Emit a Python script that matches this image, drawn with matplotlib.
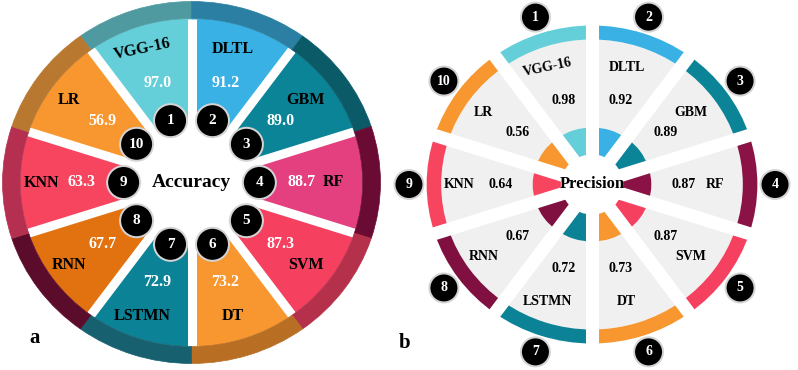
import numpy as np
import matplotlib
matplotlib.use('Agg')
import matplotlib.pyplot as plt
from matplotlib.patches import Wedge, Circle
from matplotlib.transforms import Affine2D

plt.rcParams['font.family'] = ['Liberation Serif', 'DejaVu Serif']
plt.rcParams['font.weight'] = 'bold'

# data
models = ['VGG-16', 'DLTL', 'GBM', 'RF', 'SVM', 'DT', 'LSTMN', 'RNN', 'KNN', 'LR']
accuracy = [97.0, 91.2, 89.0, 88.7, 87.3, 73.2, 72.9, 67.7, 63.3, 56.9]
precision = [0.98, 0.92, 0.89, 0.87, 0.87, 0.73, 0.72, 0.67, 0.64, 0.56]

colors_a = ['#64cfd9', '#39b1e4', '#0c8497', '#e4407f', '#f6405f',
            '#f8962f', '#0b8296', '#e2710f', '#f74560', '#f8962f']
ring_a = ['#4f9aa0', '#2a7fa2', '#0b5a68', '#690b32', '#b5304a',
          '#b86f24', '#17606f', '#5c0c2b', '#b53050', '#b87830']
colors_b = ['#64cfd9', '#39b1e4', '#0c8497', '#8a1244', '#f6405f',
            '#f8962f', '#0b8296', '#801040', '#f74560', '#f8962f']

n = len(models)
step = 360 / n
mids = 90 + step / 2 - step * np.arange(n)      # wedge 1 sits just left of 12 o'clock, clockwise

fig = plt.figure(figsize=(7.98, 3.70), dpi=100)
ax = fig.add_axes([0, 0, 1, 1])
ax.set_xlim(0, 798)
ax.set_ylim(0, 370)
ax.axis('off')


def pos(cx, cy, sx, r, ang):
    a = np.radians(ang)
    return cx + sx * r * np.cos(a), cy + r * np.sin(a)


def num_circle(x, y, r, k, size):
    ax.add_patch(Circle((x, y), r + 2, fc='#d4d4d4', ec='none', zorder=6))
    ax.add_patch(Circle((x, y), r, fc='black', ec='none', zorder=7))
    ax.text(x, y, str(k), color='white', fontsize=size, ha='center', va='center',
            fontweight='bold', zorder=8)


# ---------------- panel a : accuracy ----------------
cx, cy, sx = 191.5, 187.5, 1.044
tr = Affine2D().scale(sx, 1).translate(cx, cy) + ax.transData
r_in, r_mid, r_out = 62, 164, 181

for i in range(n):
    t1, t2 = mids[i] - step / 2, mids[i] + step / 2
    ax.add_patch(Wedge((0, 0), r_mid, t1, t2, width=r_mid - r_in,
                       fc=colors_a[i], ec='none', transform=tr, zorder=1))
for i in range(n):
    a = np.radians(mids[i] + step / 2)
    ax.plot([0, r_mid * np.cos(a)], [0, r_mid * np.sin(a)], color='white',
            lw=6.5, solid_capstyle='butt', transform=tr, zorder=2)
for i in range(n):
    t1, t2 = mids[i] - step / 2, mids[i] + step / 2
    ax.add_patch(Wedge((0, 0), r_out, t1, t2, width=r_out - r_mid,
                       fc=ring_a[i], ec=ring_a[i], lw=0.5, transform=tr, zorder=3))

for i in range(n):
    x, y = pos(cx - 4, cy, sx, 140, mids[i])
    rot = 12 if models[i] == 'VGG-16' else 0
    ax.text(x, y, models[i], fontsize=11.5, ha='center', va='center',
            rotation=rot, color='black', zorder=5)
    x, y = pos(cx, cy, sx, 105, mids[i])
    ax.text(x, y, f'{accuracy[i]:.1f}', fontsize=11.5, ha='center', va='center',
            color='white', zorder=5)
    x, y = pos(cx, cy, sx, 65, mids[i])
    num_circle(x, y, 15.5, i + 1, 11)

ax.text(cx, cy, 'Accuracy', fontsize=14, ha='center', va='center', zorder=5)
ax.text(35, 32, 'a', fontsize=15, ha='center', va='center')

# ---------------- panel b : precision ----------------
cx, cy, sx = 592, 185.5, 1.04
tr = Affine2D().scale(sx, 1).translate(cx, cy) + ax.transData
r_gray, r_arc, r_small, r_hole = 145, 159, 57, 30

for i in range(n):
    t1, t2 = mids[i] - step / 2, mids[i] + step / 2
    ax.add_patch(Wedge((0, 0), r_gray, t1, t2, fc='#f0f0f0', ec='none',
                       transform=tr, zorder=1))
    ax.add_patch(Wedge((0, 0), r_arc, t1, t2, width=r_arc - r_gray,
                       fc=colors_b[i], ec='none', transform=tr, zorder=1))
    ax.add_patch(Wedge((0, 0), r_small, t1, t2, fc=colors_b[i], ec='none',
                       transform=tr, zorder=1))
for i in range(n):
    a = np.radians(mids[i] + step / 2)
    ax.plot([0, 170 * np.cos(a)], [0, 170 * np.sin(a)], color='white',
            lw=9.4, solid_capstyle='butt', transform=tr, zorder=2)
ax.add_patch(Circle((0, 0), r_hole, fc='white', ec='none', transform=tr, zorder=2))

for i in range(n):
    x, y = pos(cx - 5, cy, sx, 123, mids[i])
    rot = 12 if models[i] == 'VGG-16' else 0
    ax.text(x, y, models[i], fontsize=10, ha='center', va='center',
            rotation=rot, color='black', zorder=5)
    x, y = pos(cx, cy, sx, 88, mids[i])
    ax.text(x, y, f'{precision[i]:.2f}', fontsize=10, ha='center', va='center',
            color='black', zorder=5)
    x, y = pos(cx, cy, sx, 176, mids[i])
    num_circle(x, y, 13.5, i + 1, 10)

ax.text(cx, cy, 'Precision', fontsize=12, ha='center', va='center', zorder=5)
ax.text(405, 27, 'b', fontsize=15, ha='center', va='center')

plt.savefig('out.png', dpi=100)
